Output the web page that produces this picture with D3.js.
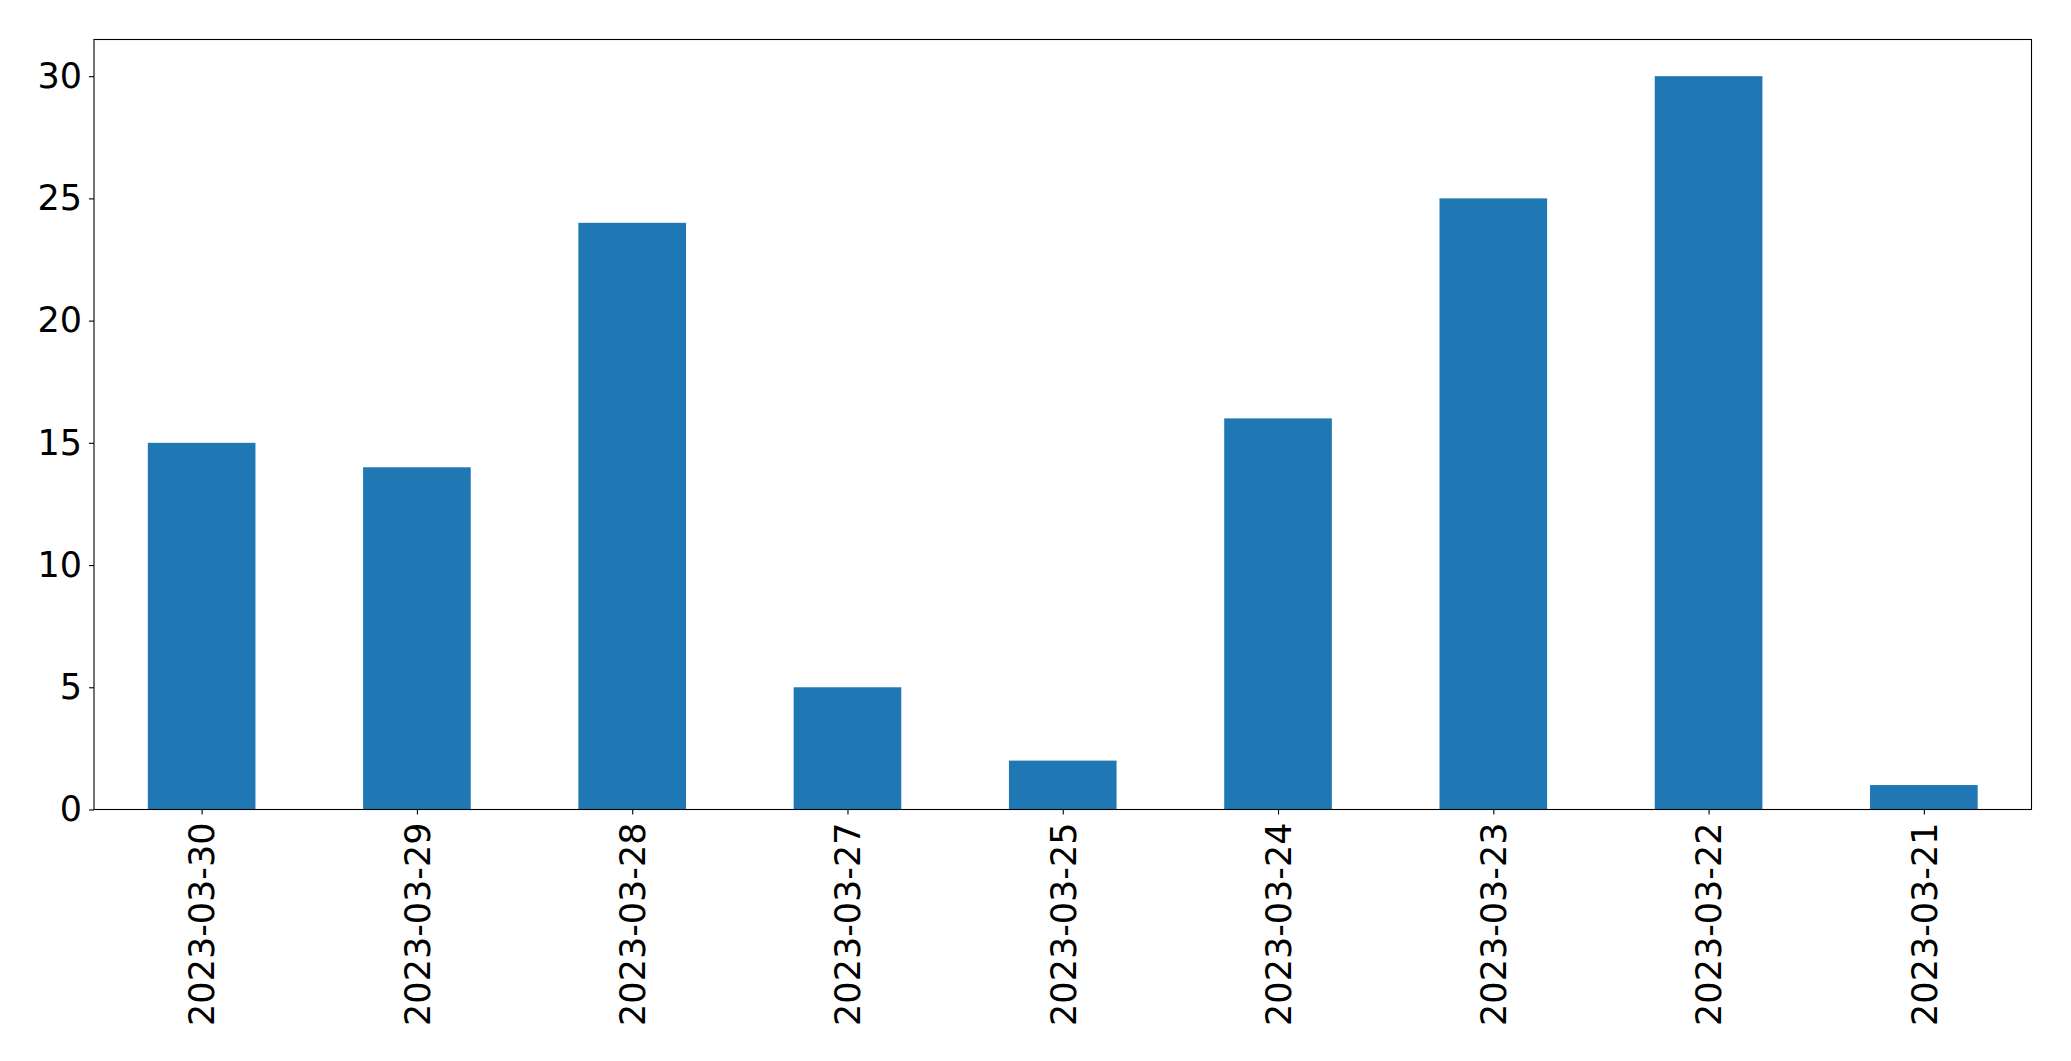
<!DOCTYPE html>
<html><head><meta charset="utf-8">
<script src="https://cdn.jsdelivr.net/npm/d3@7"></script>
<style>html,body{margin:0;padding:0;background:#fff;}svg{display:block;}</style>
</head><body>
<script>
const categories = ["2023-03-30","2023-03-29","2023-03-28","2023-03-27","2023-03-25","2023-03-24","2023-03-23","2023-03-22","2023-03-21"];
const values = [15,14,24,5,2,16,25,30,1];
const yTicks = [0,5,10,15,20,25,30];

const W = 2071, H = 1061;
const mLeft = 94, mRight = 2031.5, mTop = 39.5, mBottom = 809.5;
const fs = 35;

const svg = d3.select("body").append("svg").attr("width", W).attr("height", H);

const x = d3.scaleLinear().domain([-0.5, categories.length - 0.5]).range([mLeft, mRight]);
const y = d3.scaleLinear().domain([0, 31.5]).range([mBottom, mTop]);
const bw = (x(1) - x(0)) * 0.5;

svg.append("g").selectAll("rect").data(values).join("rect")
  .attr("x", (d, i) => x(i) - bw / 2)
  .attr("width", bw)
  .attr("y", d => y(d))
  .attr("height", d => y(0) - y(d))
  .attr("fill", "#1f77b4");

// y axis
const ya = svg.append("g").attr("transform", `translate(${mLeft},0)`)
  .call(d3.axisLeft(y).tickValues(yTicks).tickSize(5).tickPadding(7).tickFormat(d3.format("d")));
ya.select(".domain").remove();
ya.selectAll("text").attr("font-family", "DejaVu Sans").attr("font-size", fs).attr("fill", "#000");
ya.selectAll("line").attr("stroke", "#000").attr("stroke-width", 1.1);

// x axis
const xa = svg.append("g").attr("transform", `translate(0,${mBottom})`)
  .call(d3.axisBottom(x).tickValues(d3.range(categories.length)).tickSize(5).tickFormat(i => categories[i]));
xa.select(".domain").remove();
xa.selectAll("line").attr("stroke", "#000").attr("stroke-width", 1.1);
xa.selectAll("text")
  .attr("font-family", "DejaVu Sans").attr("font-size", fs).attr("fill", "#000")
  .attr("transform", "rotate(-90)")
  .attr("x", -13).attr("y", 0).attr("dy", "0.35em")
  .attr("text-anchor", "end");

// frame
svg.append("rect").attr("x", mLeft).attr("y", mTop).attr("width", mRight - mLeft).attr("height", mBottom - mTop)
  .attr("fill", "none").attr("stroke", "#000").attr("stroke-width", 1.1);
</script>
</body></html>
